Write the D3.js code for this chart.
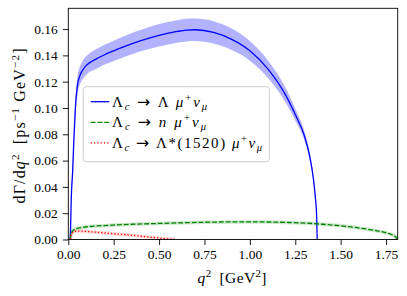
<!DOCTYPE html>
<meta charset="utf-8">
<script src="https://d3js.org/d3.v7.min.js"></script>
<style>
  body { margin: 0; background: #fff; }
</style>
<div id="chart"></div>
<script>
// Lambda_c -> Lambda mu nu  (central value and band)
var lamQ2  = [0.0112, 0.016, 0.024, 0.031, 0.039, 0.05, 0.065, 0.08, 0.1, 0.15, 0.2, 0.25, 0.3, 0.4, 0.5, 0.6, 0.65, 0.7, 0.8, 0.9, 1.0, 1.1, 1.2, 1.25, 1.3, 1.33, 1.35, 1.36, 1.368, 1.3707];
var lamVal = [0, 0.030, 0.052, 0.077, 0.100, 0.117, 0.125, 0.129, 0.1325, 0.137, 0.1405, 0.1435, 0.1463, 0.1513, 0.1553, 0.1582, 0.1592, 0.1595, 0.1575, 0.1522, 0.1435, 0.1295, 0.109, 0.095, 0.079, 0.063, 0.046, 0.033, 0.017, 0];
var lamHi  = [0, 0.032, 0.055, 0.081, 0.106, 0.124, 0.132, 0.136, 0.1395, 0.1445, 0.148, 0.1512, 0.1542, 0.1595, 0.1638, 0.1668, 0.1678, 0.1681, 0.166, 0.1604, 0.151, 0.1362, 0.1145, 0.0995, 0.0825, 0.066, 0.048, 0.0345, 0.0178, 0];
var lamLo  = [0, 0.028, 0.049, 0.073, 0.094, 0.110, 0.118, 0.122, 0.1255, 0.1295, 0.133, 0.1358, 0.1384, 0.1431, 0.1468, 0.1496, 0.1506, 0.1509, 0.149, 0.144, 0.136, 0.1228, 0.1035, 0.0905, 0.0755, 0.06, 0.044, 0.0315, 0.0162, 0];

// Lambda_c -> n mu nu
var nQ2  = [0.0112, 0.013, 0.02, 0.031, 0.045, 0.06, 0.1, 0.16, 0.25, 0.35, 0.5, 0.6, 0.75, 0.9, 1.0, 1.1, 1.2, 1.3, 1.4, 1.5, 1.6, 1.7, 1.75, 1.78, 1.8, 1.8141];
var nVal = [0, 0.0034, 0.0058, 0.0074, 0.0083, 0.0088, 0.0096, 0.0103, 0.011, 0.0116, 0.0122, 0.0126, 0.0131, 0.0134, 0.0134, 0.0133, 0.013, 0.0125, 0.0116, 0.0104, 0.0088, 0.0066, 0.0051, 0.0038, 0.0023, 0];

// Lambda_c -> Lambda(1520) mu nu
var rQ2  = [0.0112, 0.014, 0.02, 0.03, 0.045, 0.06, 0.08, 0.1, 0.15, 0.2, 0.25, 0.3, 0.35, 0.4, 0.45, 0.5, 0.55, 0.5882];
var rVal = [0, 0.0025, 0.0046, 0.0058, 0.0063, 0.0064, 0.0063, 0.0061, 0.0056, 0.005, 0.0044, 0.0038, 0.0032, 0.0025, 0.0018, 0.0011, 0.0004, 0];

var xTicks = [0, 0.25, 0.5, 0.75, 1.0, 1.25, 1.5, 1.75];
var yTicks = [0, 0.02, 0.04, 0.06, 0.08, 0.10, 0.12, 0.14, 0.16];

var W = 407, H = 296;
var margin = {top: 8.3, right: 9.3, bottom: 56.5, left: 68.3};
var width = W - margin.left - margin.right,
    height = H - margin.top - margin.bottom;
var FONT = "Liberation Serif";

var svg = d3.select("#chart").append("svg")
    .attr("width", W).attr("height", H);
var g = svg.append("g")
    .attr("transform", "translate(" + margin.left + "," + margin.top + ")");

var x = d3.scaleLinear().domain([0, 1.8141]).range([0, width]);
var y = d3.scaleLinear().domain([0, 0.1758]).range([height, 0]);

g.append("defs").append("clipPath").attr("id", "clip")
  .append("rect").attr("width", width).attr("height", height);
var plot = g.append("g").attr("clip-path", "url(#clip)");

var curve = d3.curveMonotoneX;

// band
var band = lamQ2.map(function(q, i) { return {q: q, lo: lamLo[i], hi: lamHi[i]}; });
plot.append("path").datum(band)
  .attr("fill", "#0000ff").attr("fill-opacity", 0.3)
  .attr("d", d3.area().curve(curve)
    .x(function(d) { return x(d.q); })
    .y0(function(d) { return y(d.lo); })
    .y1(function(d) { return y(d.hi); }));

function pts(qs, vs) { return qs.map(function(q, i) { return [q, vs[i]]; }); }
var line = d3.line().curve(curve)
  .x(function(d) { return x(d[0]); })
  .y(function(d) { return y(d[1]); });

// faint halos for the small channels
plot.append("path").datum(pts(nQ2, nVal))
  .attr("fill", "none").attr("stroke", "green").attr("stroke-opacity", 0.2)
  .attr("stroke-width", 3.5).attr("d", line);
plot.append("path").datum(pts(rQ2, rVal))
  .attr("fill", "none").attr("stroke", "red").attr("stroke-opacity", 0.15)
  .attr("stroke-width", 3.5).attr("d", line);

plot.append("path").datum(pts(lamQ2, lamVal))
  .attr("fill", "none").attr("stroke", "#0000ff").attr("stroke-width", 1.3).attr("d", line);
plot.append("path").datum(pts(nQ2, nVal))
  .attr("fill", "none").attr("stroke", "green").attr("stroke-width", 1.3)
  .attr("stroke-dasharray", "4.8,2").attr("d", line);
plot.append("path").datum(pts(rQ2, rVal))
  .attr("fill", "none").attr("stroke", "red").attr("stroke-width", 1.3)
  .attr("stroke-dasharray", "1.3,2").attr("d", line);

// axes
var xAxis = g.append("g").attr("transform", "translate(0," + height + ")")
  .call(d3.axisBottom(x).tickValues(xTicks).tickFormat(d3.format(".2f")).tickSize(5.5).tickPadding(4.5));
var yAxis = g.append("g")
  .call(d3.axisLeft(y).tickValues(yTicks).tickFormat(d3.format(".2f")).tickSize(5.5).tickPadding(5));
[xAxis, yAxis].forEach(function(a) {
  a.attr("font-family", FONT).attr("font-size", 13.5);
  a.select(".domain").remove();
  a.selectAll("line").attr("stroke", "#000").attr("stroke-width", 0.9);
  a.selectAll("text").attr("fill", "#000").attr("font-family", FONT);
});
g.append("rect").attr("width", width).attr("height", height)
  .attr("fill", "none").attr("stroke", "#000").attr("stroke-width", 0.9);

// rich text helper: parts = [text, style, pos]
function rich(sel, parts, size) {
  var shift = 0;
  parts.forEach(function(p) {
    var t = sel.append("tspan").text(p[0]);
    if (p[1] === "i") t.attr("font-style", "italic");
    var target = 0, fs = size;
    if (p[2] === "sup") { target = -0.38 * size; fs = size * 0.7; }
    if (p[2] === "sub") { target = 0.22 * size; fs = size * 0.7; }
    if (p[1] === "arrow") { t.attr("font-family", "DejaVu Sans"); fs = size * 1.05; }
    t.attr("font-size", fs).attr("dy", target - shift);
    shift = target;
  });
}

// axis labels
var xl = svg.append("text")
  .attr("x", 232).attr("y", 283)
  .attr("text-anchor", "middle").attr("font-family", FONT).attr("font-size", 15.5)
  .attr("textLength", 69).attr("lengthAdjust", "spacing");
rich(xl, [["q", "i"], ["2", "n", "sup"], ["\u2002[GeV", "n"], ["2", "n", "sup"], ["]", "n"]], 15.5);

var yl = svg.append("text")
  .attr("transform", "translate(25," + 126 + ") rotate(-90)")
  .attr("text-anchor", "middle").attr("font-family", FONT).attr("font-size", 16)
  .attr("textLength", 155).attr("lengthAdjust", "spacing");
rich(yl, [["d\u0393/d", "n"], ["q", "i"], ["2", "n", "sup"], ["\u2002[ps", "n"], ["\u22121", "n", "sup"], [" GeV", "n"], ["\u22122", "n", "sup"], ["]", "n"]], 16);

// legend
var legend = svg.append("g").attr("font-family", FONT);
legend.append("rect")
  .attr("x", 83.3).attr("y", 86.7).attr("width", 186).attr("height", 75)
  .attr("rx", 3).attr("fill", "#fff").attr("fill-opacity", 0.8)
  .attr("stroke", "#cccccc").attr("stroke-width", 1);

var entries = [
  {color: "#0000ff", dash: null, len: 95, label: [["\u039B", "n"], ["c", "i", "sub"], [" ", "n"], ["\u2192", "arrow"], [" \u039B ", "n"], ["\u03BC", "i"], ["+", "n", "sup"], ["\u03BD", "i"], ["\u03BC", "i", "sub"]]},
  {color: "green", dash: "4.8,2", len: 94, label: [["\u039B", "n"], ["c", "i", "sub"], [" ", "n"], ["\u2192", "arrow"], [" ", "n"], ["n", "i"], [" ", "n"], ["\u03BC", "i"], ["+", "n", "sup"], ["\u03BD", "i"], ["\u03BC", "i", "sub"]]},
  {color: "red", dash: "1.3,2", len: 150, label: [["\u039B", "n"], ["c", "i", "sub"], [" ", "n"], ["\u2192", "arrow"], [" \u039B*(1520) ", "n"], ["\u03BC", "i"], ["+", "n", "sup"], ["\u03BD", "i"], ["\u03BC", "i", "sub"]]}
];
var rowY = [101.7, 122.3, 142.9];
entries.forEach(function(e, i) {
  legend.append("line")
    .attr("x1", 90.7).attr("x2", 109.3).attr("y1", rowY[i]).attr("y2", rowY[i])
    .attr("stroke", e.color).attr("stroke-width", 1.3)
    .attr("stroke-dasharray", e.dash);
  var t = legend.append("text").attr("x", 112).attr("y", rowY[i] + 4.8)
    .attr("font-family", FONT).attr("font-size", 15)
    .attr("textLength", e.len).attr("lengthAdjust", "spacing");
  rich(t, e.label, 15);
});
</script>
